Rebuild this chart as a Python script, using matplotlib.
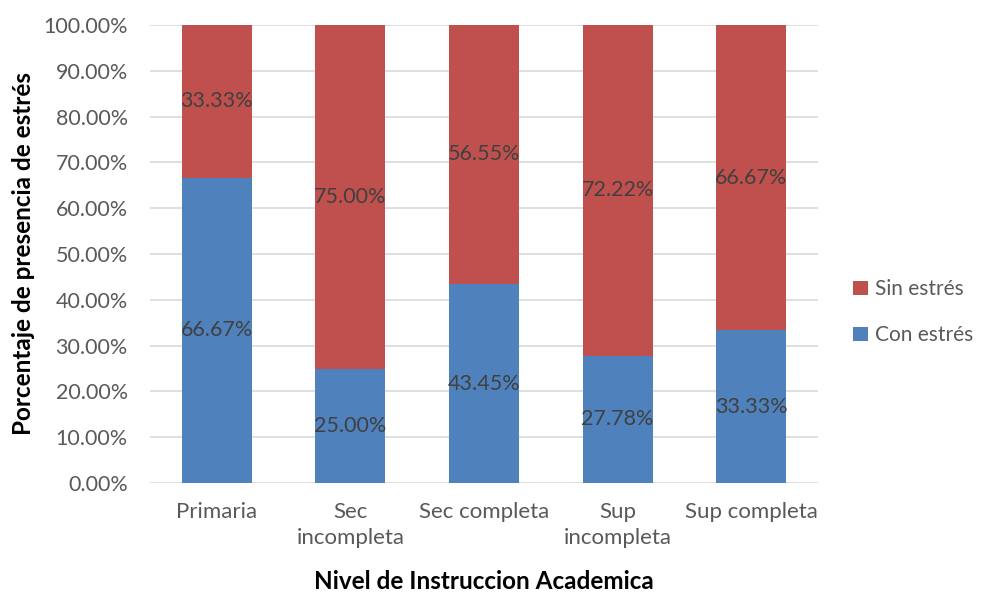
import matplotlib.pyplot as plt
import numpy as np
from matplotlib.ticker import PercentFormatter

plt.rcParams['font.family'] = ['Lato', 'DejaVu Sans']

niveles = ["Primaria", "Sec\nincompleta", "Sec completa", "Sup\nincompleta", "Sup completa"]
con_estres = [66.67, 25.00, 43.45, 27.78, 33.33]
sin_estres = [33.33, 75.00, 56.55, 72.22, 66.67]

azul = "#4F81BD"
rojo = "#C0504D"
gris = "#595959"

fig = plt.figure(figsize=(9.83, 5.92), dpi=100)
ax = fig.add_axes([0.1526, 0.1841, 0.6795, 0.7737])

x = np.arange(len(niveles))
ancho = 0.525
b1 = ax.bar(x, con_estres, ancho, color=azul, label="Con estrés", zorder=3)
b2 = ax.bar(x, sin_estres, ancho, bottom=con_estres, color=rojo, label="Sin estrés", zorder=3)

# etiquetas centradas en cada tramo
for barras, vals in ((b1, con_estres), (b2, sin_estres)):
    ax.bar_label(barras, labels=[f"{v:.2f}%" for v in vals], label_type="center",
                 color="#404040", fontsize=15.5)

ax.set_xlim(-0.5, len(niveles) - 0.5)
ax.set_ylim(0, 100)
ax.set_yticks(np.arange(0, 101, 10))
ax.yaxis.set_major_formatter(PercentFormatter(decimals=2))
ax.set_xticks(x)
ax.set_xticklabels(niveles, linespacing=1.35)
ax.tick_params(axis="both", length=0, labelsize=15.5, colors=gris)
ax.tick_params(axis="x", labelsize=16, pad=14)
ax.tick_params(axis="y", pad=16)
ax.grid(axis="y", color="#D9D9D9", linewidth=1.2, zorder=0)
for s in ax.spines.values():
    s.set_visible(False)

ax.set_xlabel("Nivel de Instruccion Academica", fontsize=17.5, fontweight="bold", labelpad=16)
ax.set_ylabel("Porcentaje de presencia de estrés", fontsize=17.5, fontweight="bold", labelpad=6)

h, l = ax.get_legend_handles_labels()
ax.legend(h[::-1], l[::-1], loc="center left", bbox_to_anchor=(1.025, 0.373), frameon=False,
          fontsize=15, labelcolor=gris, handlelength=0.7, handleheight=0.7,
          handletextpad=0.35, labelspacing=1.25)

fig.savefig("out.png", dpi=100)
